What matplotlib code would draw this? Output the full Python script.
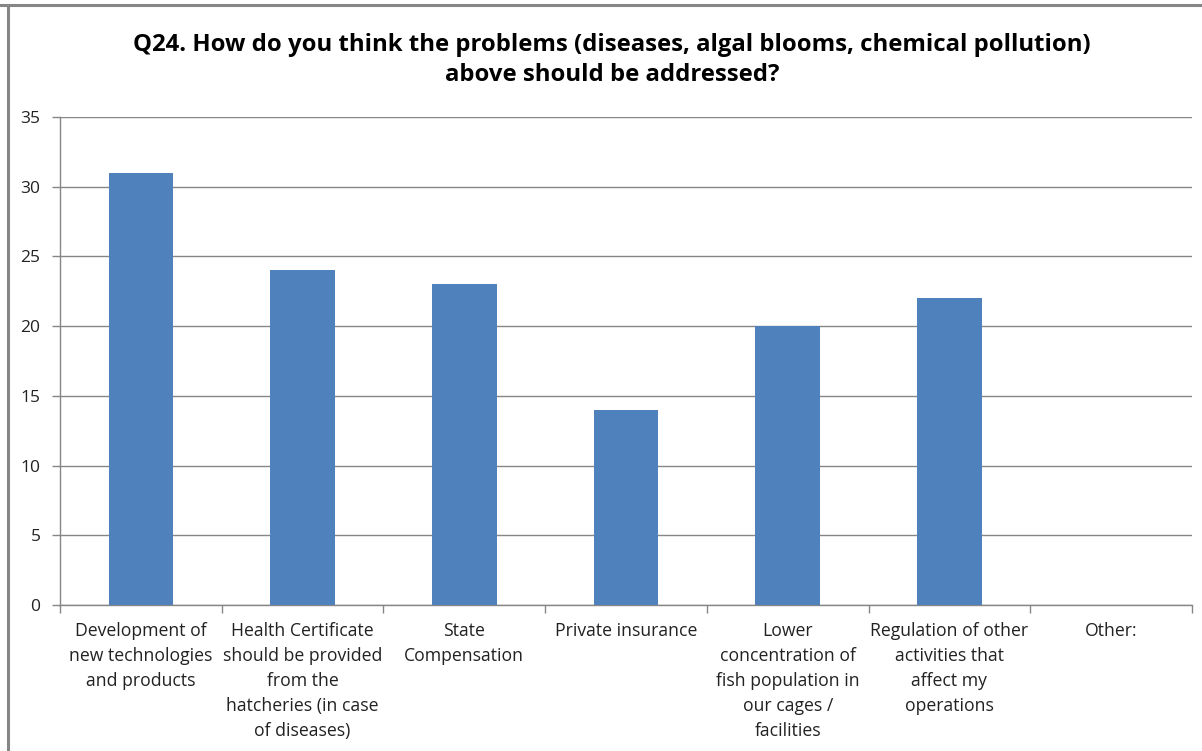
import matplotlib
matplotlib.use("Agg")
import matplotlib.pyplot as plt
from matplotlib.lines import Line2D
import numpy as np

categories = [
    "Development of\nnew technologies\nand products",
    "Health Certificate\nshould be provided\nfrom the\nhatcheries (in case\nof diseases)",
    "State\nCompensation",
    "Private insurance",
    "Lower\nconcentration of\nfish population in\nour cages /\nfacilities",
    "Regulation of other\nactivities that\naffect my\noperations",
    "Other:",
]
values = [31, 24, 23, 14, 20, 22, 0]
y_ticks = [0, 5, 10, 15, 20, 25, 30, 35]
title = ("Q24. How do you think the problems (diseases, algal blooms, chemical pollution)\n"
         "above should be addressed?")

W, H = 1202, 751
plt.rcParams["font.family"] = ["Open Sans", "DejaVu Sans"]
fig = plt.figure(figsize=(W / 100, H / 100), dpi=100)
fig.patch.set_facecolor("white")

ax = fig.add_axes([60 / W, 1 - 605 / H, (1192 - 60) / W, (605 - 117) / H])
grey = "#868686"
x = np.arange(len(categories))
ax.bar(x, values, width=0.4, color="#4F81BD", zorder=3)

ax.set_xlim(-0.5, len(categories) - 0.5)
ax.set_ylim(0, 35)
ax.set_yticks(y_ticks)
ax.set_yticklabels([str(v) for v in y_ticks], fontsize=12.5, color="#222222")
ax.yaxis.grid(True, color=grey, linewidth=1.0, zorder=0)
ax.set_axisbelow(True)

ax.set_xticks(np.arange(len(categories) + 1) - 0.5)
ax.set_xticklabels([])
ax.tick_params(axis="x", length=6, width=1, color=grey, direction="out")
ax.tick_params(axis="y", length=6, width=1, color=grey, direction="out", pad=8)

for i, lab in enumerate(categories):
    ax.text(i, -1.25, lab, ha="center", va="top", fontsize=12.7,
            linespacing=1.5, color="#222222")

for side in ["top", "right"]:
    ax.spines[side].set_visible(False)
for side in ["left", "bottom"]:
    ax.spines[side].set_color(grey)
    ax.spines[side].set_linewidth(1.0)

fig.text(612 / W, 1 - 60 / H, title, ha="center", va="center",
         fontsize=17.2, fontweight="bold", linespacing=1.33, color="#000000")

# chart frame
fig.add_artist(Line2D([0, 1], [1 - 5 / H, 1 - 5 / H], color=grey, linewidth=2.2))
fig.add_artist(Line2D([8 / W, 8 / W], [0, 1 - 5 / H], color=grey, linewidth=2.2))

fig.savefig("out.png", dpi=100, facecolor="white")
